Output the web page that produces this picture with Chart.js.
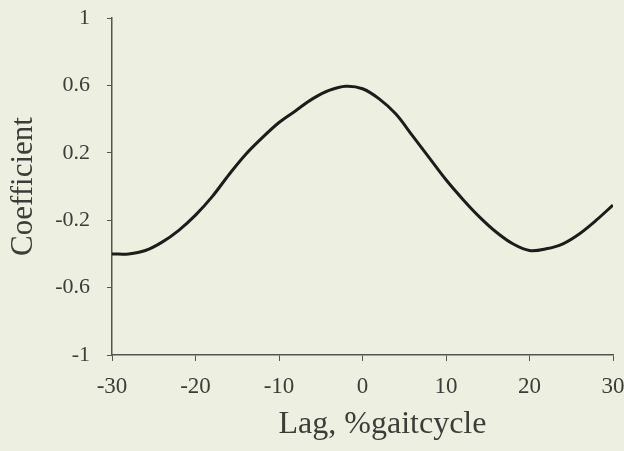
<!DOCTYPE html>
<html>
<head>
<meta charset="utf-8">
<script src="https://cdn.jsdelivr.net/npm/chart.js@4.4.1/dist/chart.umd.min.js"></script>
<style>
  html, body { margin: 0; padding: 0; background: #edefe1; }
  #wrap { width: 624px; height: 451px; position: relative; }
</style>
</head>
<body>
<div id="wrap"><canvas id="lagChart" width="624" height="451"></canvas></div>
<script>
// lag in % of gait cycle, cross-correlation coefficient
const lags = [-30, -28, -26, -24, -22, -20, -18, -16, -14, -12, -10, -8, -6, -4, -2, 0,
              2, 4, 6, 8, 10, 12, 14, 16, 18, 20, 22, 24, 26, 28, 30];
const coefficients = [-0.40, -0.40, -0.38, -0.33, -0.26, -0.17, -0.06, 0.07, 0.19, 0.29, 0.38, 0.45, 0.52, 0.57, 0.595, 0.58,
                      0.52, 0.43, 0.30, 0.17, 0.04, -0.075, -0.18, -0.27, -0.34, -0.38, -0.37, -0.34, -0.28, -0.20, -0.11];
const xTitle = 'Lag, %gaitcycle';
const yTitle = 'Coefficient';

const textColor = '#3c3c38';
const axisColor = '#55554f';
const serif = '"Liberation Serif", "DejaVu Serif", serif';

const points = lags.map((lag, i) => ({ x: lag, y: coefficients[i] }));

// x title sits a bit right of the plot centre in the original, so draw it by hand
const xTitlePlugin = {
    id: 'xTitle',
    afterDraw(chart) {
        const c = chart.ctx;
        const area = chart.chartArea;
        c.save();
        c.fillStyle = textColor;
        c.font = '32px ' + serif;
        c.textAlign = 'center';
        c.textBaseline = 'middle';
        c.fillText(xTitle, (area.left + area.right) / 2 + 20, 425);
        c.restore();
    }
};

const ctx = document.getElementById('lagChart').getContext('2d');

const lagChart = new Chart(ctx, {
    type: 'line',
    data: {
        datasets: [{
            data: points,
            borderColor: '#1c1c1a',
            borderWidth: 3,
            pointRadius: 0,
            tension: 0.35,
            fill: false
        }]
    },
    options: {
        responsive: false,
        animation: false,
        layout: {
            padding: { top: 18, right: 11, left: 0, bottom: 0 }
        },
        plugins: {
            legend: { display: false },
            tooltip: { enabled: false }
        },
        scales: {
            x: {
                type: 'linear',
                min: -30,
                max: 30,
                afterFit: function(scale) {
                    scale.height = 96;
                    scale.paddingLeft = 0;
                    scale.paddingRight = 0;
                },
                ticks: {
                    stepSize: 10,
                    color: textColor,
                    padding: 12,
                    font: { family: serif, size: 23 }
                },
                grid: {
                    drawOnChartArea: false,
                    tickLength: 6,
                    color: axisColor
                },
                border: { color: axisColor, width: 1.5 }
            },
            y: {
                min: -1,
                max: 1,
                afterFit: function(scale) {
                    scale.width = 112;
                    scale.paddingTop = 0;
                    scale.paddingBottom = 0;
                },
                ticks: {
                    stepSize: 0.4,
                    color: textColor,
                    padding: 17,
                    font: { family: serif, size: 22 },
                    callback: function(value) {
                        return String(Math.round(value * 10) / 10);
                    }
                },
                grid: {
                    drawOnChartArea: false,
                    tickLength: 5,
                    color: axisColor
                },
                border: { color: axisColor, width: 1.5 },
                title: {
                    display: true,
                    text: yTitle,
                    color: textColor,
                    font: { family: serif, size: 31 },
                    padding: { top: 5, bottom: 0 }
                }
            }
        }
    },
    plugins: [xTitlePlugin]
});
</script>
</body>
</html>
